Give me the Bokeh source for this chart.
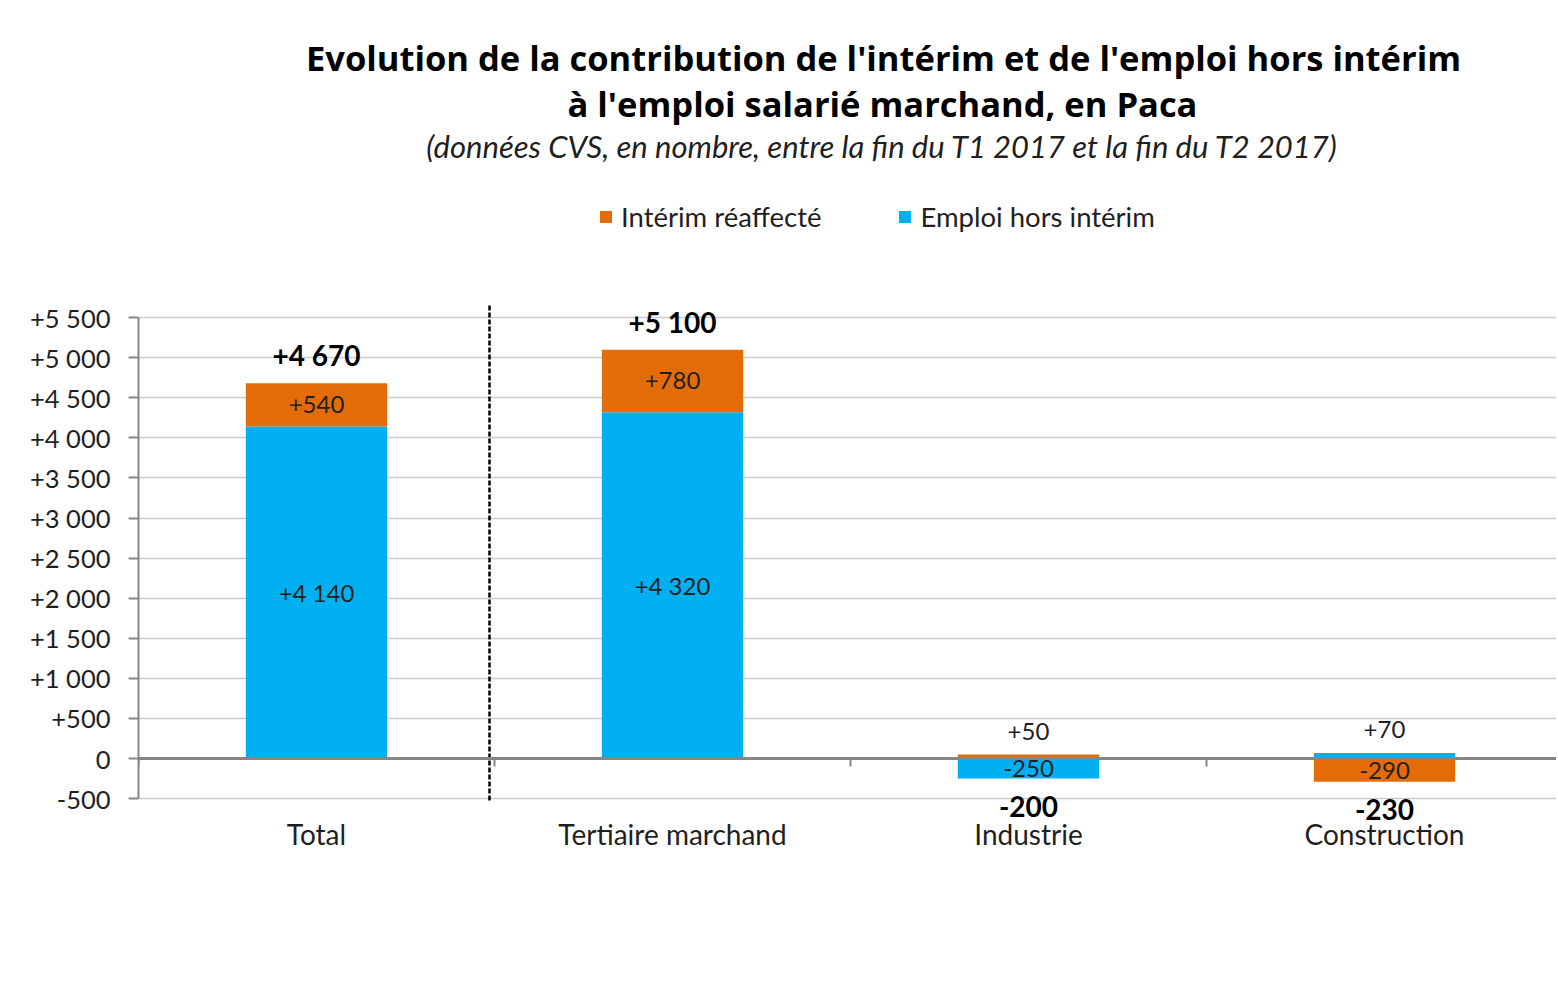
import numpy as np
from bokeh.plotting import figure
from bokeh.models import Range1d, FixedTicker, Span, Legend, LegendItem, Label, ColumnDataSource
from bokeh.embed import file_html
from bokeh.resources import INLINE
from bokeh.core.properties import value

# ---------------- data ----------------
categories = ["Total", "Tertiaire marchand", "Industrie", "Construction"]
emploi_hors_interim = [4140, 4320, -250, 70]
interim_reaffecte = [540, 780, 50, -290]
totals = [4670, 5100, -200, -230]

y_ticks = [-500, 0, 500, 1000, 1500, 2000, 2500, 3000, 3500, 4000, 4500, 5000, 5500]
y_tick_labels = ["-500", "0", "+500", "+1 000", "+1 500", "+2 000", "+2 500",
                 "+3 000", "+3 500", "+4 000", "+4 500", "+5 000", "+5 500"]

series_names = ["Intérim réaffecté", "Emploi hors intérim"]
title_line1 = "Evolution de la contribution de l'intérim et de l'emploi hors intérim"
title_line2 = "à l'emploi salarié marchand, en Paca"
subtitle = "(données CVS, en nombre, entre la fin du T1 2017 et la fin du T2 2017)"

# ---------------- styling / geometry ----------------
FONT = "Lato"
TFONT = "Open Sans"
ORANGE = "#E36C09"
BLUE = "#00B0F0"
GRAY = "#868686"
TXT = "#1f1f1f"

W, H = 1556, 996
FL, FR, FT, FB = 138, 1556, 11, 823      # frame edges (page px)
ZERO_Y = 758.0                            # page y of value 0
PX_PER_UNIT = 481.0 / 6000.0
CAT_W = 356.0                             # px per category

x_end = (FR - FL) / CAT_W
y1 = (ZERO_Y - FT) / PX_PER_UNIT
y0 = -(FB - ZERO_Y) / PX_PER_UNIT


def sx(page_x):
    return (page_x - FL) / CAT_W


def sy(page_y):
    return (ZERO_Y - page_y) / PX_PER_UNIT


def fmt(v):
    s = f"{abs(int(v)):,}".replace(",", " ")
    return ("+" if v > 0 else "-" if v < 0 else "") + s


p = figure(width=W, height=H, x_range=Range1d(0, x_end), y_range=Range1d(y0, y1),
           output_backend="svg", toolbar_location=None,
           min_border_left=FL, min_border_right=W - FR,
           min_border_top=FT, min_border_bottom=H - FB)
p.outline_line_color = None
p.background_fill_color = "white"
p.border_fill_color = "white"

# ---------------- stacked bars (positive / negative stacked separately) ----------------
xc = np.arange(len(categories)) + 0.5
pos_base = np.zeros(len(categories))
neg_base = np.zeros(len(categories))


def stack(vals):
    global pos_base, neg_base
    vals = np.asarray(vals, dtype=float)
    bottom = np.where(vals >= 0, pos_base, neg_base)
    top = bottom + vals
    pos_base = np.where(vals >= 0, top, pos_base)
    neg_base = np.where(vals < 0, top, neg_base)
    return bottom, top


em_b, em_t = stack(emploi_hors_interim)
it_b, it_t = stack(interim_reaffecte)

BAR_W = 0.397
r_em = p.vbar(x=xc, bottom=em_b, top=em_t, width=BAR_W, fill_color=BLUE, line_color=None)
r_it = p.vbar(x=xc, bottom=it_b, top=it_t, width=BAR_W, fill_color=ORANGE, line_color=None)

# ---------------- grid / axes ----------------
p.xgrid.grid_line_color = None
p.ygrid.ticker = FixedTicker(ticks=y_ticks)
p.ygrid.grid_line_color = "#cccccc"
p.ygrid.grid_line_width = 1.5

yax = p.yaxis[0]
yax.ticker = FixedTicker(ticks=y_ticks)
yax.major_label_overrides = {t: l for t, l in zip(y_ticks, y_tick_labels)}
yax.bounds = (y_ticks[0], y_ticks[-1])
yax.axis_line_color = GRAY
yax.axis_line_width = 2
yax.major_tick_line_color = GRAY
yax.major_tick_line_width = 2
yax.major_tick_out = 10
yax.major_tick_in = 0
yax.minor_tick_line_color = None
yax.major_label_standoff = 18
yax.major_label_text_font = FONT
yax.major_label_text_font_size = "25.5px"
yax.major_label_text_color = TXT

xax = p.xaxis[0]
xax.ticker = FixedTicker(ticks=list(xc))
xax.major_label_overrides = {float(x): c for x, c in zip(xc, categories)}
xax.axis_line_color = None
xax.major_tick_line_color = None
xax.minor_tick_line_color = None
xax.major_tick_out = 0
xax.major_tick_in = 0
xax.major_label_standoff = -7
xax.major_label_text_font = FONT
xax.major_label_text_font_size = "28px"
xax.major_label_text_color = TXT

# zero line and category boundary ticks
p.add_layout(Span(location=0, dimension="width", line_color=GRAY, line_width=3))
bounds_x = np.arange(len(categories)).astype(float)
p.segment(x0=bounds_x, y0=np.zeros_like(bounds_x), x1=bounds_x,
          y1=np.full_like(bounds_x, -8 / PX_PER_UNIT), line_color=GRAY, line_width=2)

# dashed separator between Total and sectors
p.segment(x0=[1 - 5 / CAT_W], y0=[sy(800)], x1=[1 - 5 / CAT_W], y1=[sy(305)],
          line_color="black", line_width=2.5, line_dash="5 2")

# ---------------- segment labels ----------------
seg_vals = np.concatenate([emploi_hors_interim, interim_reaffecte]).astype(float)
seg_x = np.concatenate([xc, xc])
seg_b = np.concatenate([em_b, it_b])
seg_t = np.concatenate([em_t, it_t])
big = np.abs(seg_vals) >= 150

src_in = ColumnDataSource(dict(x=seg_x[big], y=((seg_b + seg_t) / 2)[big],
                               text=[fmt(v) for v in seg_vals[big]]))
p.text(x="x", y="y", text="text", source=src_in, text_align="center", text_baseline="middle",
       text_font=value(FONT), text_font_size="24px", text_color=TXT)

small = ~big
src_out = ColumnDataSource(dict(x=seg_x[small], y=np.maximum(seg_b, seg_t)[small],
                                text=[fmt(v) for v in seg_vals[small]]))
p.text(x="x", y="y", text="text", source=src_out, text_align="center", text_baseline="middle",
       y_offset=-23, text_font=value(FONT), text_font_size="24px", text_color=TXT)

# ---------------- totals (bold) ----------------
tot = np.asarray(totals, dtype=float)
posm = tot >= 0
src_tp = ColumnDataSource(dict(x=xc[posm], y=pos_base[posm], text=[fmt(v) for v in tot[posm]]))
p.text(x="x", y="y", text="text", source=src_tp, text_align="center", text_baseline="middle",
       y_offset=-28, text_font=value(FONT), text_font_style="bold", text_font_size="28px",
       text_color="black")
src_tn = ColumnDataSource(dict(x=xc[~posm], y=neg_base[~posm], text=[fmt(v) for v in tot[~posm]]))
p.text(x="x", y="y", text="text", source=src_tn, text_align="center", text_baseline="middle",
       y_offset=28, text_font=value(FONT), text_font_style="bold", text_font_size="28px",
       text_color="black")

# ---------------- titles ----------------
p.add_layout(Label(x=sx(883), y=sy(57), text=title_line1, text_align="center",
                   text_baseline="middle", text_font=TFONT, text_font_style="bold",
                   text_font_size="34.5px", text_color="black"))
p.add_layout(Label(x=sx(882), y=sy(103), text=title_line2, text_align="center",
                   text_baseline="middle", text_font=TFONT, text_font_style="bold",
                   text_font_size="34.5px", text_color="black"))
p.add_layout(Label(x=sx(882), y=sy(145), text=subtitle, text_align="center",
                   text_baseline="middle", text_font=FONT, text_font_style="italic",
                   text_font_size="31px", text_color=TXT))

# ---------------- legend ----------------
legend = Legend(items=[LegendItem(label=series_names[0], renderers=[r_it]),
                       LegendItem(label=series_names[1], renderers=[r_em])],
                orientation="horizontal", location=(598 - FL, FB - 233),
                glyph_width=15, glyph_height=15, label_standoff=8, spacing=76,
                padding=0, margin=0, border_line_color=None, background_fill_alpha=0,
                label_text_font=FONT, label_text_font_size="27.5px", label_text_color=TXT)
p.add_layout(legend)

open("out.html", "w").write(file_html(p, INLINE))
